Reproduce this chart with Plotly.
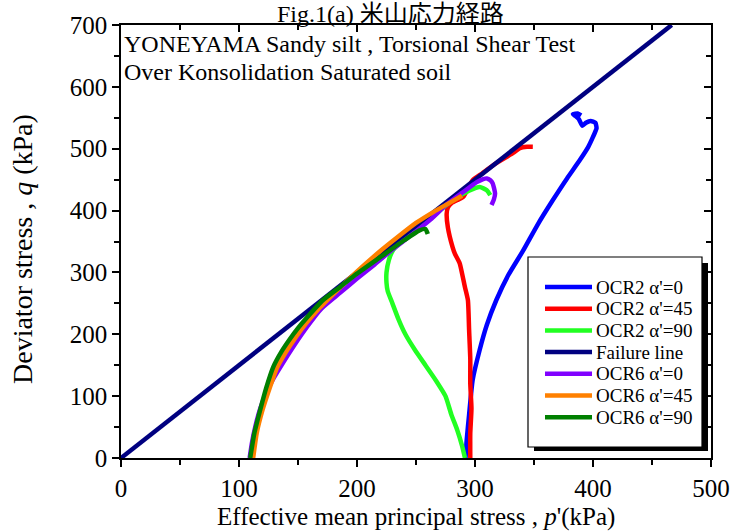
import plotly.graph_objects as go

# ---------------- data ----------------
title_text = "Fig.1(a) 米山応力経路"
note_lines = ["YONEYAMA Sandy silt , Torsional Shear Test", "Over Konsolidation Saturated soil"]
series_names = ["OCR2 α'=0", "OCR2 α'=45", "OCR2 α'=90", "Failure line",
                "OCR6 α'=0", "OCR6 α'=45", "OCR6 α'=90"]

ocr2_a0_p = [292, 293, 295, 298, 304, 310, 318, 328, 341, 353, 366, 378, 389, 396, 400, 403, 402, 398, 394, 391, 388, 385, 383, 387, 390]
ocr2_a0_q = [0, 30, 70, 126, 175, 215, 255, 295, 336, 377, 417, 452, 482, 503, 519, 533, 542, 545, 542, 537, 548, 553, 556, 557, 554]

ocr2_a45_p = [296, 296, 297, 296, 296, 295, 294, 291.5, 287, 283, 281, 277, 276, 277, 280, 285, 290, 298, 306, 313, 320, 327, 333, 338, 344, 349]
ocr2_a45_q = [0, 40, 80, 120, 160, 207, 255, 276, 315, 330, 341, 373, 395, 405, 412, 417, 422, 449, 460, 470, 479, 487, 494, 501, 503, 503]

ocr2_a90_p = [291.5, 289, 285, 280, 275, 267, 258, 249, 241, 235, 230, 226, 225, 225, 227, 230.5, 239, 251, 264, 281, 296, 304, 310, 313]
ocr2_a90_q = [0, 20, 45, 70, 100, 125, 150, 175, 200, 225, 250, 270, 283, 300, 320, 336, 352, 369, 390, 417, 433, 438, 433, 425]

failure_p = [0, 466.7]
failure_q = [0, 700]

ocr6_a0_p = [109, 111, 114, 118, 123, 129, 136, 146, 157.6, 170, 185.6, 200, 215, 230, 247, 262, 276, 290, 301.5, 307, 310, 313, 315, 317, 316, 314]
ocr6_a0_q = [0, 25, 52, 80, 105, 128, 150, 180, 212, 242, 267, 290, 313, 337, 362, 385, 410, 430, 446, 451, 452, 449, 444, 428, 418, 409]

ocr6_a45_p = [112, 115, 120, 126, 132, 140, 148, 157, 168, 180, 192, 205, 220, 235, 250, 265, 278, 289]
ocr6_a45_q = [0, 40, 78, 113, 145, 172, 195, 218, 242, 265, 287, 310, 335, 358, 380, 398, 412, 424]

ocr6_a90_p = [109.5, 113, 118, 123, 129, 136, 143, 150, 158, 171, 186, 200, 220, 240, 253, 258, 260]
ocr6_a90_q = [0, 40, 78, 113, 147, 172, 192, 210, 228, 255, 277, 298, 325, 352, 368, 370, 362]

colors = ["#0000FF", "#FF0000", "#22FF22", "#000080", "#8000FF", "#FF8000", "#008000"]

x_title = "Effective mean principal stress , <i>p</i>'(kPa)"
y_title = "Deviator stress , <i>q</i> (kPa)"

# ---------------- figure ----------------
FONT = '"Liberation Serif", "Times New Roman", "Noto Sans CJK JP", serif'
W, H = 733, 532
# plot area in window pixels: x 121..711, y 25..458
PX0, PX1, PY0, PY1 = 121, 711, 25, 458
L, T, R, B = PX0, PY0, W - PX1, H - PY1

fig = go.Figure()
all_p = [ocr2_a0_p, ocr2_a45_p, ocr2_a90_p, failure_p, ocr6_a0_p, ocr6_a45_p, ocr6_a90_p]
all_q = [ocr2_a0_q, ocr2_a45_q, ocr2_a90_q, failure_q, ocr6_a0_q, ocr6_a45_q, ocr6_a90_q]
for name, px, qy, c in zip(series_names, all_p, all_q, colors):
    fig.add_trace(go.Scatter(x=px, y=qy, mode="lines", name=name, showlegend=False,
                             line=dict(color=c, width=4.5, shape="spline", smoothing=0.5)))

# invisible trace to activate mirrored axes with inside ticks
fig.add_trace(go.Scatter(x=[0], y=[0], xaxis="x2", yaxis="y2", mode="markers",
                         marker=dict(opacity=0), showlegend=False, hoverinfo="skip"))

axis_common = dict(showgrid=False, zeroline=False, showline=True, linecolor="black",
                   linewidth=1.5, ticks="outside", ticklen=7, tickwidth=1.5, tickcolor="black",
                   automargin=False,
                   tickfont=dict(family=FONT, size=25, color="black"))
mirror_common = dict(showticklabels=False, showgrid=False, zeroline=False, showline=False,
                     ticks="inside", ticklen=7, tickwidth=1.5, tickcolor="black", automargin=False,
                     minor=dict(dtick=50, ticks="inside", ticklen=5, tickwidth=1.5, tickcolor="black"))

fig.update_layout(
    width=W, height=H,
    margin=dict(l=L, r=R, t=T, b=B, autoexpand=False),
    paper_bgcolor="white", plot_bgcolor="white",
    font=dict(family=FONT, color="black"),
    xaxis=dict(range=[0, 500], dtick=100, mirror=True,
               minor=dict(dtick=50, ticks="outside", ticklen=5, tickwidth=1.5, tickcolor="black"),
               **axis_common),
    yaxis=dict(range=[0, 700], dtick=100, mirror=True,
               minor=dict(dtick=50, ticks="outside", ticklen=5, tickwidth=1.5, tickcolor="black"),
               **axis_common),
    xaxis2=dict(range=[0, 500], dtick=100, overlaying="x", side="top", **mirror_common),
    yaxis2=dict(range=[0, 700], dtick=100, overlaying="y", side="right", **mirror_common),
    showlegend=False,
)

def px2paper_x(px):
    return (px - PX0) / (PX1 - PX0)

def px2paper_y(py):
    return (PY1 - py) / (PY1 - PY0)

# legend shadow and box
fig.add_shape(type="rect", xref="paper", yref="paper", layer="above",
              x0=px2paper_x(534), x1=px2paper_x(708), y0=px2paper_y(451), y1=px2paper_y(263),
              fillcolor="black", line=dict(width=0))
fig.add_shape(type="rect", xref="paper", yref="paper", layer="above",
              x0=px2paper_x(528), x1=px2paper_x(702), y0=px2paper_y(447), y1=px2paper_y(257),
              fillcolor="white", line=dict(color="black", width=1.2))
# legend entries
for i, (name, c) in enumerate(zip(series_names, colors)):
    yy = px2paper_y(287 + 21.7 * i)
    fig.add_shape(type="line", xref="paper", yref="paper", layer="above",
                  x0=px2paper_x(545), x1=px2paper_x(592), y0=yy, y1=yy,
                  line=dict(color=c, width=4.5))
    fig.add_annotation(text=name, xref="paper", yref="paper", x=px2paper_x(594), y=yy,
                       showarrow=False, xanchor="left", yanchor="middle",
                       font=dict(family=FONT, size=19, color="black"))

# title
fig.add_annotation(text=title_text, xref="paper", yref="paper", x=px2paper_x(390), y=px2paper_y(0),
                   showarrow=False, xanchor="center", yanchor="top", borderpad=0,
                   font=dict(family=FONT, size=24, color="black"))
# note lines
for i, line in enumerate(note_lines):
    fig.add_annotation(text=line, xref="paper", yref="paper", x=px2paper_x(122), y=px2paper_y(44 + 28 * i),
                       showarrow=False, xanchor="left", yanchor="middle",
                       font=dict(family=FONT, size=24, color="black"))
# axis titles
fig.add_annotation(text=x_title, xref="paper", yref="paper", x=px2paper_x(416), y=px2paper_y(517),
                   showarrow=False, xanchor="center", yanchor="middle",
                   font=dict(family=FONT, size=25, color="black"))
fig.add_annotation(text=y_title, xref="paper", yref="paper", x=px2paper_x(22), y=px2paper_y(249),
                   showarrow=False, xanchor="center", yanchor="middle", textangle=-90,
                   font=dict(family=FONT, size=28, color="black"))

fig.write_html("out.html", config={"displayModeBar": False},
               post_script="document.body.style.margin='0px';")
